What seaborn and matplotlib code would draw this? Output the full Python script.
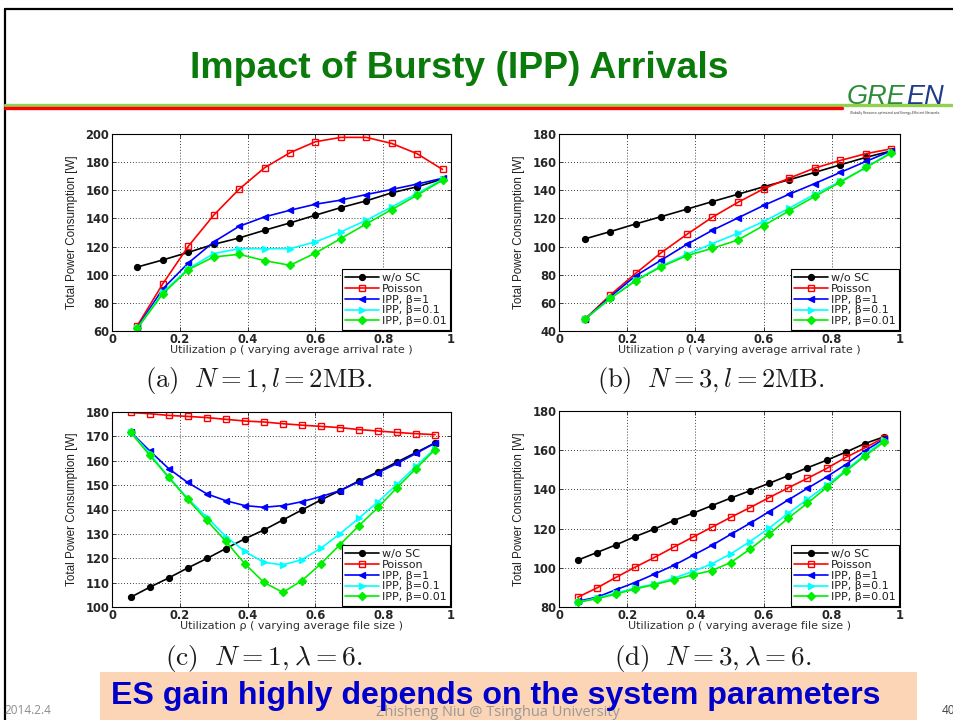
import numpy as np
import pandas as pd
import matplotlib
matplotlib.use("Agg")
import matplotlib.pyplot as plt
import seaborn as sns
from matplotlib import font_manager
from matplotlib.patches import Rectangle
from matplotlib.lines import Line2D

# ---------------------------------------------------------------- data
rho_rate = [0.075, 0.15, 0.225, 0.30, 0.375, 0.45, 0.525, 0.60, 0.675, 0.75, 0.825, 0.90, 0.975]
rho_size = [0.055, 0.111, 0.167, 0.223, 0.280, 0.336, 0.392, 0.448, 0.504,
            0.560, 0.616, 0.672, 0.728, 0.785, 0.841, 0.897, 0.953]

series_names = ["w/o SC", "Poisson", "IPP, β=1", "IPP, β=0.1", "IPP, β=0.01"]

# (a) N = 1, l = 2MB, varying arrival rate
a_wo_sc = [105.5, 110.5, 115.9, 121.6, 126.1, 131.6, 136.8, 142.3, 147.7, 152.5, 158.2, 162.5, 168.0]
a_poisson = [63.9, 93.6, 120.2, 142.3, 160.8, 176.0, 186.7, 194.5, 197.6, 197.6, 193.3, 186.0, 174.8]
a_ipp_1 = [62.7, 90.0, 108.3, 123.3, 134.4, 141.1, 145.8, 150.1, 153.0, 157.0, 160.6, 164.4, 168.5]
a_ipp_01 = [62.0, 87.6, 104.3, 115.0, 118.5, 118.5, 118.5, 123.3, 130.4, 138.7, 148.2, 157.7, 167.9]
a_ipp_001 = [62.0, 86.5, 103.6, 112.6, 114.5, 110.0, 106.7, 115.4, 125.7, 136.1, 146.3, 156.5, 167.2]

# (b) N = 3, l = 2MB, varying arrival rate
b_wo_sc = [105.4, 110.6, 116.1, 121.3, 126.6, 132.0, 137.2, 142.5, 147.5, 152.7, 158.1, 163.4, 168.0]
b_poisson = [48.2, 65.5, 81.0, 95.7, 108.7, 120.9, 131.5, 141.0, 148.6, 155.8, 161.2, 166.0, 169.5]
b_ipp_1 = [48.2, 64.3, 79.3, 90.4, 101.6, 111.6, 120.4, 129.2, 137.2, 144.8, 152.7, 160.5, 168.1]
b_ipp_01 = [48.2, 63.1, 76.2, 86.2, 94.5, 102.1, 109.5, 117.8, 127.3, 137.2, 146.3, 156.2, 167.2]
b_ipp_001 = [48.2, 63.1, 75.7, 85.7, 93.5, 98.8, 104.7, 114.9, 125.4, 135.6, 145.8, 156.2, 166.5]

# (c) N = 1, lambda = 6, varying file size
c_wo_sc = [104.0, 108.1, 111.9, 116.0, 119.9, 124.0, 128.0, 131.6, 135.7, 139.8, 143.9, 147.7,
           151.7, 155.5, 159.5, 163.4, 167.3]
c_poisson = [179.8, 179.3, 178.6, 178.2, 177.7, 177.0, 176.3, 175.9, 175.2, 174.6, 174.1, 173.6,
             172.8, 172.2, 171.6, 171.1, 170.7]
c_ipp_1 = [171.8, 164.1, 156.8, 151.1, 146.4, 143.6, 141.6, 140.9, 141.6, 143.2, 145.3, 147.7,
           151.4, 155.1, 158.9, 163.0, 167.3]
c_ipp_01 = [171.8, 163.0, 153.4, 144.6, 136.8, 128.9, 122.8, 118.3, 117.3, 119.4, 124.1, 130.0,
            136.4, 143.2, 150.3, 157.8, 165.0]
c_ipp_001 = [171.6, 162.3, 153.2, 144.2, 135.5, 126.9, 117.7, 110.1, 106.0, 110.8, 117.7, 125.5,
             133.3, 140.9, 149.0, 156.8, 164.6]

# (d) N = 3, lambda = 6, varying file size
d_wo_sc = [103.9, 107.8, 111.7, 115.9, 119.8, 124.1, 127.8, 131.7, 135.6, 139.3, 143.1, 147.0,
           151.0, 154.9, 159.0, 163.4, 166.8]
d_poisson = [85.0, 89.7, 95.1, 100.3, 105.3, 110.5, 115.6, 120.7, 125.8, 130.7, 135.8, 140.8,
             145.6, 150.7, 156.3, 161.2, 166.4]
d_ipp_1 = [82.9, 85.0, 88.8, 92.5, 96.8, 101.2, 106.3, 111.4, 117.1, 122.7, 128.6, 134.6,
           140.5, 146.4, 152.7, 159.7, 165.6]
d_ipp_01 = [82.4, 84.6, 87.1, 89.7, 91.7, 94.7, 98.1, 102.0, 107.1, 113.4, 120.2, 127.8,
            134.9, 142.2, 149.8, 157.8, 165.1]
d_ipp_001 = [82.4, 84.2, 86.6, 89.2, 91.4, 93.9, 96.4, 98.6, 102.7, 109.5, 117.1, 125.3,
             132.9, 141.0, 149.3, 157.0, 164.2]

x_ticks = [0, 0.2, 0.4, 0.6, 0.8, 1.0]
x_tick_labels = ["0", "0.2", "0.4", "0.6", "0.8", "1"]

slide_title = "Impact of Bursty (IPP) Arrivals"
takeaway = "ES gain highly depends on the system parameters"
ylabel_text = "Total Power Consumption [W]"
xlabel_rate = "Utilization ρ ( varying average arrival rate )"
xlabel_size = "Utilization ρ ( varying average file size )"
captions = [r"$\mathrm{(a)}\ \ N=1,l=2\mathrm{MB.}$",
            r"$\mathrm{(b)}\ \ N=3,l=2\mathrm{MB.}$",
            r"$\mathrm{(c)}\ \ N=1,\lambda=6.$",
            r"$\mathrm{(d)}\ \ N=3,\lambda=6.$"]

# ---------------------------------------------------------------- style
sns.set_theme(style="ticks", rc={
    "axes.edgecolor": "black",
    "axes.linewidth": 0.8,
    "xtick.direction": "in",
    "ytick.direction": "in",
    "xtick.top": True,
    "ytick.right": True,
    "xtick.major.size": 3,
    "ytick.major.size": 3,
    "xtick.major.width": 0.6,
    "ytick.major.width": 0.6,
})
plt.rcParams["font.family"] = ["DejaVu Sans"]
plt.rcParams["mathtext.fontset"] = "cm"


def has_font(name):
    try:
        font_manager.findfont(font_manager.FontProperties(family=name),
                              fallback_to_default=False)
        return True
    except ValueError:
        return False


NARROW = "Liberation Sans Narrow" if has_font("Liberation Sans Narrow") else "Liberation Sans"

STYLE = {
    "w/o SC": dict(color="black", marker="o", markersize=4.2, markerfacecolor="black"),
    "Poisson": dict(color="red", marker="s", markersize=4.6, markerfacecolor="none"),
    "IPP, β=1": dict(color="blue", marker="<", markersize=5, markerfacecolor="blue"),
    "IPP, β=0.1": dict(color="#00FFFF", marker=">", markersize=5, markerfacecolor="#00FFFF"),
    "IPP, β=0.01": dict(color="#00EE00", marker="D", markersize=3.6, markerfacecolor="#00EE00"),
}

W, H = 954, 720
fig = plt.figure(figsize=(W / 100, H / 100), dpi=100)
fig.patch.set_facecolor("white")


def fx(x):
    return x / W


def fy(y):
    return 1 - y / H


def make_axes(left, top, right, bottom):
    return fig.add_axes([fx(left), fy(bottom), (right - left) / W, (bottom - top) / H])


def draw_panel(ax, rho, values, ylim, yticks, xlabel):
    frames = [pd.DataFrame({"rho": rho, "power": vals, "series": name})
              for name, vals in zip(series_names, values)]
    df = pd.concat(frames, ignore_index=True)
    for name in series_names:
        st = STYLE[name]
        sns.lineplot(data=df[df["series"] == name], x="rho", y="power", ax=ax,
                     color=st["color"], marker=st["marker"], markersize=st["markersize"],
                     markerfacecolor=st["markerfacecolor"], markeredgecolor=st["color"],
                     markeredgewidth=1.0, linewidth=1.2, label=name, sort=False,
                     errorbar=None, legend=False)
    ax.set_xlim(0, 1)
    ax.set_ylim(*ylim)
    ax.set_xticks(x_ticks)
    ax.set_xticklabels(x_tick_labels)
    ax.set_yticks(yticks)
    ax.set_yticklabels([str(v) for v in yticks])
    for lab in ax.get_xticklabels() + ax.get_yticklabels():
        lab.set_fontsize(8.3)
        lab.set_fontweight("bold")
        lab.set_color("#262626")
    ax.tick_params(axis="x", pad=1.5)
    ax.tick_params(axis="y", pad=2)
    ax.grid(True, color="black", linestyle=(0, (1, 2.5)), linewidth=0.6)
    for sp in ax.spines.values():
        sp.set_visible(True)
        sp.set_color("black")
    ax.set_xlabel(xlabel, fontsize=8, color="#303030")
    ax.xaxis.set_label_coords(0.53, -0.072)
    ax.set_ylabel(ylabel_text, fontsize=8.4, color="#202020", family=NARROW)
    ax.yaxis.set_label_coords(-0.10, 0.5)
    leg = ax.legend(loc="lower right", fontsize=8, frameon=True, fancybox=False,
                    framealpha=1, edgecolor="black", borderaxespad=0.12,
                    handlelength=3.0, handletextpad=0.25, labelspacing=0.08,
                    borderpad=0.3)
    leg.get_frame().set_linewidth(0.8)
    for t in leg.get_texts():
        t.set_color("#202020")


ax_a = make_axes(112, 134, 451, 331)
draw_panel(ax_a, rho_rate, [a_wo_sc, a_poisson, a_ipp_1, a_ipp_01, a_ipp_001],
           (60, 200), list(range(60, 201, 20)), xlabel_rate)
ax_b = make_axes(559, 134, 900, 331)
draw_panel(ax_b, rho_rate, [b_wo_sc, b_poisson, b_ipp_1, b_ipp_01, b_ipp_001],
           (40, 180), list(range(40, 181, 20)), xlabel_rate)
ax_c = make_axes(112, 412, 451, 607)
draw_panel(ax_c, rho_size, [c_wo_sc, c_poisson, c_ipp_1, c_ipp_01, c_ipp_001],
           (100, 180), list(range(100, 181, 10)), xlabel_size)
ax_d = make_axes(559, 411, 900, 607)
draw_panel(ax_d, rho_size, [d_wo_sc, d_poisson, d_ipp_1, d_ipp_01, d_ipp_001],
           (80, 180), list(range(80, 181, 20)), xlabel_size)

renderer = fig.canvas.get_renderer()


def fit_width(t, target):
    w = t.get_window_extent(renderer).width
    t.set_fontsize(t.get_fontsize() * target / w)


# sub-figure captions
for cap, (cx, cy, cw) in zip(captions, [(259, 380, 228), (711, 380, 228),
                                        (264, 658, 198), (713, 658, 198)]):
    t = fig.text(fx(cx), fy(cy), cap, fontsize=15, ha="center", va="center", color="#1a1a1a")
    fit_width(t, cw)

# ---------------------------------------------------------------- slide frame
fig.add_artist(Line2D([fx(5), fx(5)], [fy(9), 0], transform=fig.transFigure,
                      color="black", lw=1.6))
fig.add_artist(Line2D([fx(5), 1], [fy(9), fy(9)], transform=fig.transFigure,
                      color="black", lw=1.6))
fig.add_artist(Line2D([fx(5), 1], [fy(104.5), fy(104.5)], transform=fig.transFigure,
                      color="#92D050", lw=2.4))
fig.add_artist(Line2D([fx(5), fx(842)], [fy(108), fy(108)], transform=fig.transFigure,
                      color="#FF0000", lw=2.4))

title = fig.text(fx(459), fy(68), slide_title, fontsize=28, fontweight="bold",
                 color="#0A7A0A", family=NARROW, ha="center", va="center")
fit_width(title, 538)

# GREEN logo
fig.add_artist(Rectangle((fx(843), fy(117)), 104 / W, 44 / H, transform=fig.transFigure,
                         facecolor="white", edgecolor="none"))
logo_green = fig.text(fx(847), fy(104), "GRE", fontsize=19.5, fontstyle="italic",
                      color="#2E8B3A", family=NARROW, ha="left", va="baseline")
ext = logo_green.get_window_extent(renderer)
fig.text(ext.x1 / W + 0.5 / W, fy(104), "EN", fontsize=19.5, fontstyle="italic",
         color="#1F3C8C", family=NARROW, ha="left", va="baseline")
fig.text(fx(895), fy(113), "Globally Resource-optimized and Energy-Efficient Networks",
         fontsize=2.2, color="#333333", ha="center", va="center")

# takeaway banner
fig.add_artist(Rectangle((fx(100), 0), (917 - 100) / W, (720 - 672) / H,
                         transform=fig.transFigure, facecolor="#FBD5B5", edgecolor="none"))
fig.text(fx(498), fy(712), "Zhisheng Niu @ Tsinghua University", fontsize=10.5,
         color="#999999", ha="center", va="center", family="Open Sans")
banner = fig.text(fx(496), fy(696), takeaway, fontsize=22, fontweight="bold",
                  color="#0000CC", family=NARROW, ha="center", va="center")
fit_width(banner, 768)

fig.text(fx(4), fy(710), "2014.2.4", fontsize=8.5, color="#8C8C8C", ha="left",
         va="center", family="Open Sans")
fig.text(fx(942), fy(710), "40", fontsize=8.5, color="#404040", ha="left",
         va="center", family="Open Sans")

fig.savefig("out.png", dpi=100, facecolor="white")
